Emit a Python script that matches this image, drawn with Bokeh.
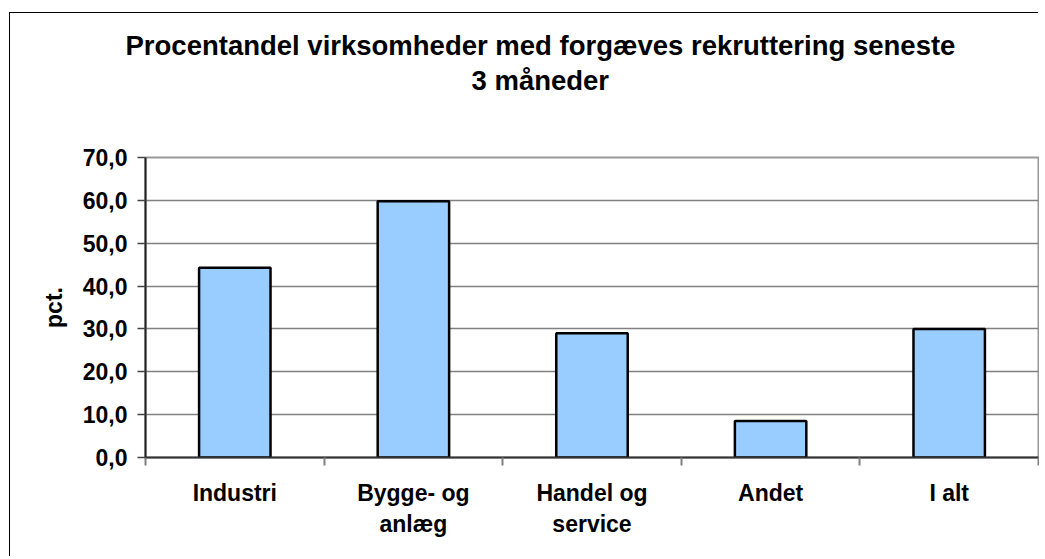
from bokeh.plotting import figure
from bokeh.models import Range1d, FixedTicker, Title
from bokeh.embed import file_html
from bokeh.resources import INLINE

categories = ["Industri", "Bygge- og\nanlæg", "Handel og\nservice", "Andet", "I alt"]
values = [44.3, 59.8, 29.0, 8.5, 30.0]
y_ticks = [0, 10, 20, 30, 40, 50, 60, 70]
y_labels = {v: f"{v:.1f}".replace(".", ",") for v in y_ticks}
title_line1 = "Procentandel virksomheder med forgæves rekruttering seneste"
title_line2 = "3 måneder"
y_label = "pct."

FONT = "Liberation Sans"

x_pos = [i + 0.5 for i in range(len(categories))]
bounds = list(range(len(categories) + 1))

p = figure(width=1029, height=544, output_backend="svg", toolbar_location=None,
           x_range=Range1d(0, len(categories)), y_range=Range1d(0, 70),
           min_border_left=135, min_border_right=1, min_border_bottom=100, min_border_top=144,
           styles={"position": "relative", "left": "10px", "top": "13px",
                   "box-shadow": "-1px -1px 0px 0px black"})
p.title = None

p.vbar(x=x_pos, top=values, width=0.4, bottom=0,
       fill_color="#99CCFF", line_color="black", line_width=2.5)

# title: spacer nearest the frame, then line 2, then line 1
spacer = Title(text=" ", text_font_size="1px", standoff=58, text_color="white")
t2 = Title(text=title_line2, align="left", offset=326, text_font=FONT,
           text_font_size="27.5px", text_font_style="bold", text_color="black", standoff=2)
t1 = Title(text=title_line1, align="left", offset=-20, text_font=FONT,
           text_font_size="27.5px", text_font_style="bold", text_color="black", standoff=2)
p.add_layout(spacer, "above")
p.add_layout(t2, "above")
p.add_layout(t1, "above")

# x axis
xa = p.xaxis[0]
xa.ticker = FixedTicker(ticks=x_pos, minor_ticks=bounds)
xa.major_label_overrides = {x: c for x, c in zip(x_pos, categories)}
xa.major_tick_line_color = None
xa.major_tick_out = 0
xa.major_tick_in = 0
xa.minor_tick_out = 8
xa.minor_tick_in = 0
xa.minor_tick_line_color = "#808080"
xa.minor_tick_line_width = 2
xa.axis_line_color = "#333333"
xa.axis_line_width = 2
xa.major_label_standoff = 14
xa.major_label_text_font = FONT
xa.major_label_text_font_size = "23px"
xa.major_label_text_font_style = "bold"
xa.major_label_text_color = "black"
xa.major_label_text_line_height = 1.2

# y axis
ya = p.yaxis[0]
ya.ticker = FixedTicker(ticks=y_ticks)
ya.major_label_overrides = y_labels
ya.major_tick_out = 8
ya.major_tick_in = 0
ya.minor_tick_line_color = None
ya.major_tick_line_color = "#444444"
ya.major_tick_line_width = 1.5
ya.axis_line_color = "#222222"
ya.axis_line_width = 2
ya.major_label_standoff = 10
ya.major_label_text_font = FONT
ya.major_label_text_font_size = "23px"
ya.major_label_text_font_style = "bold"
ya.major_label_text_color = "black"
ya.axis_label = y_label
ya.axis_label_text_font = FONT
ya.axis_label_text_font_size = "23px"
ya.axis_label_text_font_style = "bold"
ya.axis_label_text_color = "black"
ya.axis_label_standoff = 13

p.xgrid.grid_line_color = None
p.ygrid.grid_line_color = "#808080"
p.ygrid.grid_line_width = 1.5

p.outline_line_color = "#999999"
p.outline_line_width = 2
p.background_fill_color = "white"
p.border_fill_color = "white"

open("out.html", "w").write(file_html(p, INLINE))
